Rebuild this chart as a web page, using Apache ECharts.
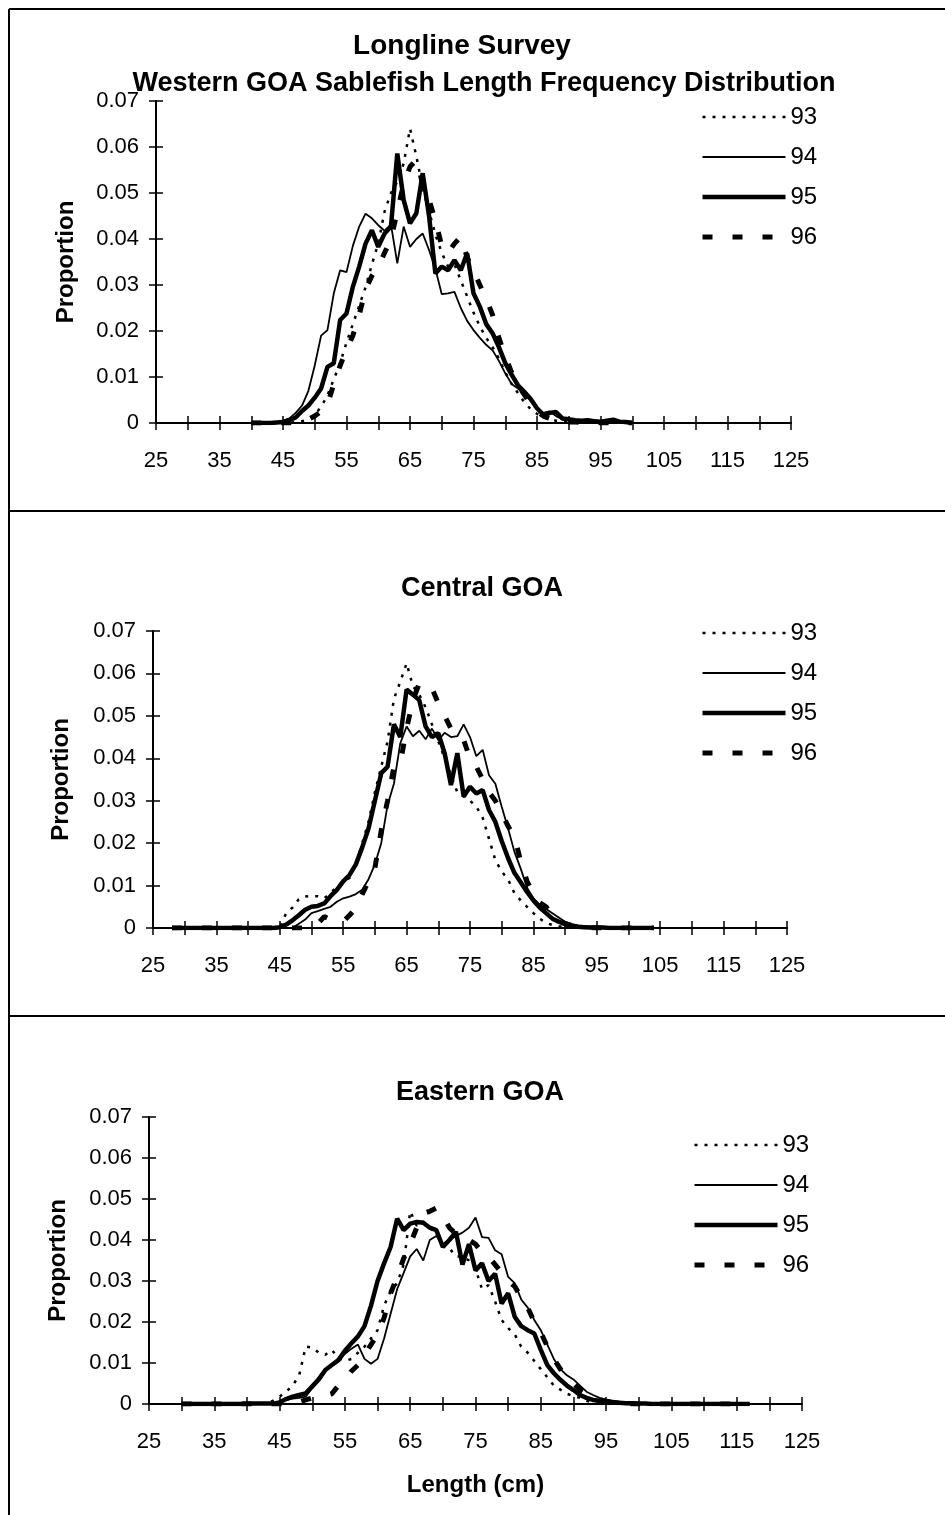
<!doctype html>
<html lang="en">
<head>
    <meta charset="UTF-8">
    <title>Longline Survey - GOA Sablefish Length Frequency Distribution</title>
    <script type="text/javascript" src="https://cdn.jsdelivr.net/npm/echarts@6/dist/echarts.min.js"></script>
    <style>
        html, body { margin: 0; padding: 0; background: #fff; }
        #container { width: 945px; height: 1515px; }
    </style>
</head>
<body>
<div id="container"></div>
<script type="text/javascript">

    // ---- data: length (cm) and proportion per survey year ----
    var years = ['93', '94', '95', '96'];

    var lenWestern = [
        40, 41, 42, 43, 44, 45, 46, 47, 48, 49,
        50, 51, 52, 53, 54, 55, 56, 57, 58, 59,
        60, 61, 62, 63, 64, 65, 66, 67, 68, 69,
        70, 71, 72, 73, 74, 75, 76, 77, 78, 79,
        80, 81, 82, 83, 84, 85, 86, 87, 88, 89,
        90, 91, 92, 93, 94, 95, 96, 97, 98, 99,
        100
    ];
    var western93 = [
        0, 0, 0, 0, 0, 0, 0, 0.0002, 0.0004, 0.0008,
        0.0018, 0.0035, 0.006, 0.0095, 0.013, 0.0175, 0.0215, 0.0255, 0.0295, 0.0345,
        0.039, 0.046, 0.05, 0.0525, 0.0564, 0.064, 0.058, 0.051, 0.046, 0.041,
        0.037, 0.034, 0.0345, 0.031, 0.0275, 0.024, 0.021, 0.0185, 0.0165, 0.014,
        0.011, 0.0085, 0.0065, 0.0045, 0.003, 0.002, 0.0012, 0.0008, 0.0005, 0.0004,
        0.0003, 0.0002, 0.0002, 0.0001, 0.0002, 0.0001, 0.0001, 0.0001, 0, 0,
        0
    ];
    var western94 = [
        0, 0, 0, 0, 0.0002, 0.0005, 0.001, 0.0022, 0.0038, 0.007,
        0.0125, 0.019, 0.0202, 0.0282, 0.0332, 0.0328, 0.0385, 0.0427, 0.0455, 0.0445,
        0.043, 0.0418, 0.0432, 0.0347, 0.0427, 0.0383, 0.04, 0.0412, 0.0376, 0.0335,
        0.028, 0.0282, 0.0285, 0.025, 0.0222, 0.0202, 0.0185, 0.017, 0.0158, 0.0135,
        0.0108, 0.0085, 0.0075, 0.006, 0.0055, 0.003, 0.0022, 0.0025, 0.0015, 0.0008,
        0.0007, 0.0006, 0.0005, 0.0004, 0.0006, 0.0004, 0.0003, 0.0008, 0.0002, 0.0003,
        0
    ];
    var western95 = [
        0, 0, 0, 0, 0.0001, 0.0002, 0.0006, 0.0012, 0.0026, 0.0038,
        0.0055, 0.0075, 0.0122, 0.013, 0.0224, 0.0238, 0.0296, 0.034, 0.039, 0.0419,
        0.0383, 0.0412, 0.0427, 0.0586, 0.0485, 0.0434, 0.0456, 0.0543, 0.045, 0.0325,
        0.034, 0.0332, 0.0354, 0.0332, 0.0369, 0.0282, 0.0253, 0.0215, 0.0195, 0.0165,
        0.013, 0.0105, 0.0082, 0.0068, 0.0052, 0.0032, 0.0018, 0.0022, 0.0024, 0.001,
        0.0008, 0.0006, 0.0005, 0.0006, 0.0004, 0.0003, 0.0005, 0.0007, 0.0003, 0.0002,
        0
    ];
    var western96 = [
        0, 0, 0, 0, 0, 0, 0, 0, 0.0003, 0.0008,
        0.0015, 0.0025, 0.004, 0.0085, 0.0125, 0.016, 0.019, 0.0235, 0.029, 0.032,
        0.034, 0.037, 0.04, 0.046, 0.052, 0.0557, 0.0572, 0.052, 0.0485, 0.044,
        0.0385, 0.037, 0.039, 0.0405, 0.036, 0.0332, 0.03, 0.027, 0.0235, 0.0185,
        0.0145, 0.011, 0.0082, 0.0062, 0.004, 0.0025, 0.0015, 0.001, 0.0006, 0.0004,
        0.0002, 0.0002, 0.0001, 0.0001, 0.0001, 0, 0, 0, 0, 0,
        0
    ];

    var lenCentral = [
        28, 29,
        30, 31, 32, 33, 34, 35, 36, 37, 38, 39,
        40, 41, 42, 43, 44, 45, 46, 47, 48, 49,
        50, 51, 52, 53, 54, 55, 56, 57, 58, 59,
        60, 61, 62, 63, 64, 65, 66, 67, 68, 69,
        70, 71, 72, 73, 74, 75, 76, 77, 78, 79,
        80, 81, 82, 83, 84, 85, 86, 87, 88, 89,
        90, 91, 92, 93, 94, 95, 96, 97, 98, 99,
        100, 101, 102, 103, 104
    ];
    var central93 = [
        0, 0,
        0, 0, 0, 0, 0, 0, 0, 0, 0, 0,
        0, 0, 0, 0, 0, 0, 0.0035, 0.0048, 0.0068, 0.0075,
        0.0074, 0.0075, 0.007, 0.0082, 0.0098, 0.011, 0.0118, 0.015, 0.02, 0.025,
        0.032, 0.038, 0.044, 0.054, 0.058, 0.0624, 0.057, 0.055, 0.052, 0.048,
        0.044, 0.04, 0.036, 0.032, 0.031, 0.03, 0.0286, 0.026, 0.021, 0.016,
        0.0133, 0.0115, 0.0082, 0.0065, 0.005, 0.0035, 0.0022, 0.0012, 0.0007, 0.0004,
        0.0002, 0.0002, 0.0001, 0.0001, 0, 0, 0, 0, 0, 0,
        0, 0, 0, 0, 0
    ];
    var central94 = [
        0, 0,
        0, 0, 0, 0, 0, 0, 0, 0, 0, 0,
        0, 0, 0, 0, 0, 0, 0, 0, 0.001, 0.002,
        0.0035, 0.004, 0.0045, 0.005, 0.0062, 0.007, 0.0074, 0.008, 0.009, 0.0115,
        0.015, 0.02, 0.029, 0.034, 0.0435, 0.0475, 0.0452, 0.0465, 0.0445, 0.047,
        0.0443, 0.046, 0.045, 0.0452, 0.048, 0.045, 0.0405, 0.042, 0.036, 0.034,
        0.0286, 0.0235, 0.018, 0.014, 0.0095, 0.007, 0.0055, 0.0045, 0.0035, 0.0025,
        0.0015, 0.001, 0.0006, 0.0004, 0.0003, 0.0002, 0.0002, 0.0001, 0.0001, 0,
        0, 0, 0, 0, 0
    ];
    var central95 = [
        0, 0,
        0, 0, 0, 0, 0, 0, 0, 0, 0, 0,
        0, 0, 0, 0, 0, 0.0002, 0.0008, 0.0018, 0.003, 0.0043,
        0.005, 0.0052, 0.0058, 0.0075, 0.009, 0.011, 0.0125, 0.015, 0.019, 0.0235,
        0.03, 0.0365, 0.038, 0.048, 0.045, 0.0562, 0.055, 0.0537, 0.0475, 0.045,
        0.0459, 0.0412, 0.0337, 0.0412, 0.031, 0.0333, 0.0317, 0.0325, 0.0278, 0.025,
        0.0205, 0.0165, 0.013, 0.0108, 0.0085, 0.0065, 0.0048, 0.0035, 0.0022, 0.0015,
        0.0009, 0.0005, 0.0003, 0.0002, 0.0001, 0.0001, 0.0001, 0, 0, 0,
        0, 0, 0, 0, 0
    ];
    var central96 = [
        0, 0,
        0, 0, 0, 0, 0, 0, 0, 0, 0, 0,
        0, 0, 0, 0, 0, 0, 0, 0, 0, 0,
        0, 0.001, 0.0027, 0.002, 0.0015, 0.0015, 0.003, 0.0047, 0.008, 0.011,
        0.0141, 0.023, 0.03, 0.038, 0.0388, 0.047, 0.0537, 0.0577, 0.0575, 0.0565,
        0.053, 0.05, 0.047, 0.045, 0.0443, 0.04, 0.038, 0.035, 0.032, 0.03,
        0.027, 0.024, 0.0216, 0.0157, 0.011, 0.008, 0.006, 0.005, 0.003, 0.0018,
        0.001, 0.0006, 0.0003, 0.0002, 0.0001, 0, 0, 0, 0, 0,
        0, 0, 0, 0, 0
    ];

    var lenEastern = [
        30, 31, 32, 33, 34, 35, 36, 37, 38, 39,
        40, 41, 42, 43, 44, 45, 46, 47, 48, 49,
        50, 51, 52, 53, 54, 55, 56, 57, 58, 59,
        60, 61, 62, 63, 64, 65, 66, 67, 68, 69,
        70, 71, 72, 73, 74, 75, 76, 77, 78, 79,
        80, 81, 82, 83, 84, 85, 86, 87, 88, 89,
        90, 91, 92, 93, 94, 95, 96, 97, 98, 99,
        100, 101, 102, 103, 104, 105, 106, 107, 108, 109,
        110, 111, 112, 113, 114, 115, 116, 117
    ];
    var eastern93 = [
        0, 0, 0, 0, 0, 0, 0, 0, 0, 0,
        0, 0, 0, 0, 0.0008, 0.0018, 0.003, 0.0045, 0.007, 0.014,
        0.0138, 0.0125, 0.012, 0.0132, 0.0112, 0.0105, 0.011, 0.0125, 0.014, 0.016,
        0.018, 0.024, 0.0275, 0.0295, 0.034, 0.047, 0.0435, 0.0445, 0.043, 0.0415,
        0.04, 0.038, 0.036, 0.036, 0.035, 0.033, 0.028, 0.029, 0.025, 0.0205,
        0.0185, 0.017, 0.014, 0.0125, 0.0105, 0.0085, 0.0065, 0.0045, 0.0035, 0.0025,
        0.0019, 0.0015, 0.0008, 0.0003, 0.0001, 0, 0, 0, 0, 0,
        0, 0, 0, 0, 0, 0, 0, 0, 0, 0,
        0, 0, 0, 0, 0, 0, 0, 0
    ];
    var eastern94 = [
        0, 0, 0, 0, 0, 0, 0, 0, 0, 0,
        0, 0, 0, 0, 0, 0.0005, 0.001, 0.0013, 0.0015, 0.0018,
        0.004, 0.0065, 0.0085, 0.0095, 0.0105, 0.0122, 0.0135, 0.0145, 0.011, 0.0098,
        0.011, 0.016, 0.022, 0.028, 0.032, 0.036, 0.0378, 0.035, 0.04, 0.041,
        0.039, 0.04, 0.041, 0.0418, 0.043, 0.0455, 0.0407, 0.0405, 0.0375, 0.0365,
        0.031, 0.0295, 0.0255, 0.0235, 0.0205, 0.018, 0.0145, 0.011, 0.0085, 0.007,
        0.006, 0.0045, 0.003, 0.0022, 0.0015, 0.001, 0.0008, 0.0006, 0.0005, 0.0004,
        0.0003, 0.0002, 0.0002, 0.0001, 0.0001, 0.0001, 0.0001, 0.0001, 0.0001, 0.0001,
        0.0001, 0.0001, 0.0001, 0.0001, 0.0001, 0.0001, 0.0001, 0
    ];
    var eastern95 = [
        0, 0, 0, 0, 0, 0, 0, 0, 0, 0,
        0.0001, 0.0001, 0.0001, 0.0001, 0.0001, 0.0004, 0.0012, 0.0018, 0.0022, 0.0026,
        0.0043, 0.006, 0.0083, 0.0095, 0.0107, 0.013, 0.0148, 0.0165, 0.019, 0.024,
        0.03, 0.0343, 0.0383, 0.0452, 0.0424, 0.044, 0.0444, 0.0442, 0.043, 0.0424,
        0.0383, 0.04, 0.042, 0.034, 0.039, 0.0326, 0.0343, 0.03, 0.0318, 0.0245,
        0.027, 0.0213, 0.019, 0.018, 0.0172, 0.0132, 0.0095, 0.0075, 0.0059, 0.0045,
        0.0034, 0.0022, 0.0015, 0.001, 0.0008, 0.0006, 0.0004, 0.0003, 0.0002, 0.0002,
        0.0001, 0.0001, 0, 0, 0, 0, 0, 0, 0, 0,
        0, 0, 0, 0, 0, 0, 0, 0
    ];
    var eastern96 = [
        0, 0, 0, 0, 0, 0, 0, 0, 0, 0,
        0, 0, 0, 0, 0, 0, 0, 0.0002, 0.0005, 0.001,
        0.0015, 0.0018, 0.002, 0.0025, 0.0045, 0.006, 0.008, 0.0095, 0.012, 0.0145,
        0.017, 0.021, 0.027, 0.031, 0.0355, 0.039, 0.043, 0.0465, 0.047, 0.0478,
        0.046, 0.043, 0.0415, 0.041, 0.04, 0.039, 0.037, 0.036, 0.034, 0.032,
        0.03, 0.0287, 0.026, 0.0235, 0.02, 0.0175, 0.014, 0.011, 0.0085, 0.0065,
        0.005, 0.0035, 0.0025, 0.0015, 0.001, 0.0007, 0.0004, 0.0002, 0.0001, 0,
        0, 0, 0, 0, 0, 0, 0, 0, 0, 0,
        0, 0, 0, 0, 0, 0, 0, 0
    ];

    var xTicks = [25, 35, 45, 55, 65, 75, 85, 95, 105, 115, 125];

    // ---- look ----
    var FONT = '"Liberation Sans", Arial, sans-serif';
    var lineLook = {
        '93': {width: 2.5, type: [3, 7]},
        '94': {width: 1.8, type: 'solid'},
        '95': {width: 4.5, type: 'solid'},
        '96': {width: 5, type: [10, 20]}
    };

    var panels = [
        {
            lens: lenWestern, vals: [western93, western94, western95, western96],
            grid: {left: 156, right: 154, top: 101, height: 322},
            legend: {left: 700, top: 105}, nameGap: 78
        },
        {
            lens: lenCentral, vals: [central93, central94, central95, central96],
            grid: {left: 153, right: 158, top: 631, height: 297},
            legend: {left: 700, top: 621}, nameGap: 80
        },
        {
            lens: lenEastern, vals: [eastern93, eastern94, eastern95, eastern96],
            grid: {left: 149, right: 143, top: 1117, height: 287},
            legend: {left: 692, top: 1133}, nameGap: 79, xName: 'Length (cm)'
        }
    ];

    function pairs(lens, vals) {
        var out = [];
        for (var i = 0; i < lens.length; i++) {
            out.push([lens[i], vals[i]]);
        }
        return out;
    }

    var grids = [], xAxes = [], yAxes = [], legends = [], series = [];

    panels.forEach(function (p, g) {
        grids.push({left: p.grid.left, right: p.grid.right, top: p.grid.top, height: p.grid.height,
            containLabel: false, outerBoundsMode: 'none'});

        // outer ticks + labels
        xAxes.push({
            gridIndex: g, type: 'value', min: 25, max: 125, interval: 5, position: 'bottom',
            name: p.xName || '', nameLocation: 'middle', nameGap: 69,
            nameTextStyle: {color: '#000', fontSize: 24, fontWeight: 'bold', fontFamily: FONT},
            splitLine: {show: false},
            axisLine: {onZero: false, lineStyle: {color: '#000', width: 2}},
            axisTick: {length: 7, lineStyle: {color: '#000', width: 1.5}},
            axisLabel: {
                margin: 27, color: '#000', fontSize: 22, fontFamily: FONT,
                formatter: function (v) { return xTicks.indexOf(v) >= 0 ? String(v) : ''; }
            }
        });
        // inner half of the crossing ticks
        xAxes.push({
            gridIndex: g, type: 'value', min: 25, max: 125, interval: 5, position: 'bottom',
            splitLine: {show: false}, axisLine: {show: false, onZero: false}, axisLabel: {show: false},
            axisTick: {inside: true, length: 7, lineStyle: {color: '#000', width: 1.5}}
        });

        yAxes.push({
            gridIndex: g, type: 'value', min: 0, max: 0.07, interval: 0.01, position: 'left',
            name: 'Proportion', nameLocation: 'middle', nameRotate: 90, nameGap: p.nameGap,
            nameTextStyle: {color: '#000', fontSize: 24, fontWeight: 'bold', fontFamily: FONT},
            splitLine: {show: false},
            axisLine: {show: true, onZero: false, lineStyle: {color: '#000', width: 2}},
            axisTick: {show: true, length: 7, lineStyle: {color: '#000', width: 1.5}},
            axisLabel: {
                margin: 17, color: '#000', fontSize: 22, fontFamily: FONT,
                formatter: function (v) { return v === 0 ? '0' : v.toFixed(2); }
            }
        });
        yAxes.push({
            gridIndex: g, type: 'value', min: 0, max: 0.07, interval: 0.01, position: 'left',
            splitLine: {show: false}, axisLine: {show: false, onZero: false}, axisLabel: {show: false},
            axisTick: {show: true, inside: true, length: 7, lineStyle: {color: '#000', width: 1.5}}
        });

        legends.push({
            data: years, orient: 'vertical', left: p.legend.left, top: p.legend.top,
            padding: 0, itemWidth: 83, itemHeight: 24, itemGap: 16, selectedMode: false,
            itemStyle: {opacity: 0},
            lineStyle: {width: 'inherit', type: 'inherit', color: 'inherit'},
            textStyle: {color: '#000', fontSize: 24, lineHeight: 24, fontFamily: FONT}
        });

        years.forEach(function (yr, k) {
            series.push({
                name: yr, type: 'line', xAxisIndex: 2 * g, yAxisIndex: 2 * g,
                data: pairs(p.lens, p.vals[k]),
                symbol: 'none', showSymbol: false, silent: true,
                lineStyle: {color: '#000', width: lineLook[yr].width, type: lineLook[yr].type},
                itemStyle: {color: '#000'}
            });
        });
    });

    var mainTitle = {color: '#000', fontSize: 28, fontWeight: 'bold', fontFamily: FONT};
    var subTitle = {color: '#000', fontSize: 27, fontWeight: 'bold', fontFamily: FONT};
    var frame = {stroke: '#000', lineWidth: 2};

    var option = {
        animation: false,
        backgroundColor: '#fff',
        title: [
            {text: 'Longline Survey', left: 462, top: 32, textAlign: 'center', padding: 0, textStyle: mainTitle},
            {text: 'Western GOA Sablefish Length Frequency Distribution', left: 484, top: 70, textAlign: 'center', padding: 0, textStyle: subTitle},
            {text: 'Central GOA', left: 482, top: 575, textAlign: 'center', padding: 0, textStyle: subTitle},
            {text: 'Eastern GOA', left: 480, top: 1079, textAlign: 'center', padding: 0, textStyle: subTitle}
        ],
        grid: grids,
        xAxis: xAxes,
        yAxis: yAxes,
        legend: legends,
        series: series,
        graphic: [
            {type: 'line', shape: {x1: 9, y1: 9, x2: 945, y2: 9}, style: frame},
            {type: 'line', shape: {x1: 9, y1: 9, x2: 9, y2: 1515}, style: frame},
            {type: 'line', shape: {x1: 9, y1: 511, x2: 945, y2: 511}, style: frame},
            {type: 'line', shape: {x1: 9, y1: 1016, x2: 945, y2: 1016}, style: frame}
        ]
    };

    var myChart = echarts.init(document.getElementById('container'));
    myChart.setOption(option, true);

</script>
</body>
</html>
